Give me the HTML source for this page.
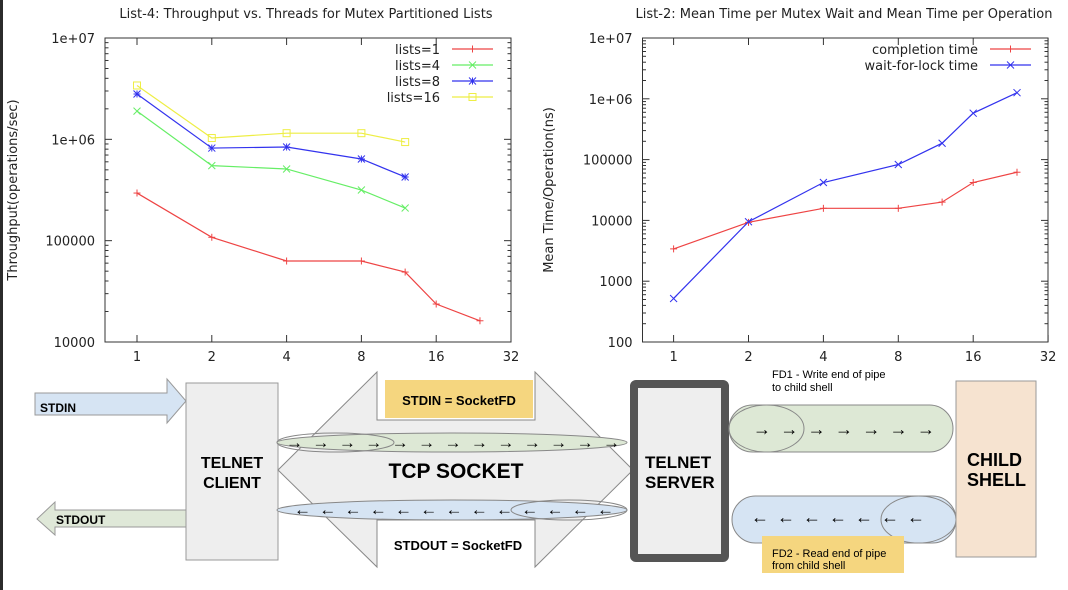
<!DOCTYPE html>
<html><head><meta charset="utf-8"><style>
html,body{margin:0;padding:0;background:#fff;}
svg{display:block;font-family:"Liberation Sans",sans-serif;}
.ch{font-family:"DejaVu Sans",sans-serif;}
</style></head><body>
<svg id="svg" width="1068" height="590" viewBox="0 0 1068 590" xmlns="http://www.w3.org/2000/svg">
<rect x="0" y="0" width="1068" height="590" fill="#fff"/>
<rect x="0" y="0" width="3" height="590" fill="#2b2b2b"/>
<g id="charts" class="ch"></g>

<!-- Diagram -->
<g font-weight="bold">
  <polygon points="35,393 167,393 167,379 186,401 167,423 167,415 35,415" fill="#d6e4f3" stroke="#999" stroke-width="1"/>
  <text x="40" y="412" font-size="12">STDIN</text>
  <polygon points="186,510 55,510 55,502 37,519 55,535 55,527 186,527" fill="#dfe8d8" stroke="#999" stroke-width="1"/>
  <text x="56" y="524" font-size="12">STDOUT</text>
  <rect x="186" y="383" width="92" height="177" fill="#eeeeee" stroke="#999"/>
  <text x="232" y="468" font-size="16" text-anchor="middle">TELNET</text>
  <text x="232" y="488" font-size="16" text-anchor="middle">CLIENT</text>

  <polygon points="278,470 377,372 377,420 535,420 535,372 633,470 535,567 535,520 377,520 377,567" fill="#eeeeee" stroke="#888" stroke-width="1"/>
  <rect x="385" y="380" width="148" height="38" fill="#f5d67f"/>
  <text x="459" y="405" font-size="13" text-anchor="middle">STDIN = SocketFD</text>
  <ellipse cx="452" cy="442.5" rx="175" ry="9.5" fill="#dde8d5" stroke="#888"/>
  <ellipse cx="335.5" cy="442.5" rx="58.5" ry="9.5" fill="none" stroke="#888"/>
  <text x="286" y="448" font-size="17" font-weight="normal" textLength="334" lengthAdjust="spacing">→ → → → → → → → → → → → →</text>
  <text x="456" y="478" font-size="21" text-anchor="middle">TCP SOCKET</text>
  <ellipse cx="452" cy="510" rx="175" ry="10" fill="#d6e4f3" stroke="#888"/>
  <ellipse cx="569" cy="510" rx="58" ry="10" fill="none" stroke="#888"/>
  <text x="294" y="515" font-size="17" font-weight="normal" textLength="320" lengthAdjust="spacing">← ← ← ← ← ← ← ← ← ← ← ← ←</text>
  <text x="458" y="550" font-size="13" text-anchor="middle">STDOUT = SocketFD</text>

  <rect x="634" y="384" width="91" height="174" rx="2" fill="#eeeeee" stroke="#555" stroke-width="8"/>
  <text x="645" y="468" font-size="17">TELNET</text>
  <text x="645" y="488" font-size="17">SERVER</text>

  <text x="772" y="378" font-size="11" font-weight="normal">FD1 - Write end of pipe</text>
  <text x="772" y="391" font-size="11" font-weight="normal">to child shell</text>
  <rect x="729" y="405" width="224" height="47" rx="23.5" fill="#dde8d5" stroke="#888"/>
  <ellipse cx="766.5" cy="428.5" rx="37.5" ry="23.5" fill="none" stroke="#888"/>
  <text x="753" y="435" font-size="18" font-weight="normal" textLength="182" lengthAdjust="spacing">→ → → → → → →</text>
  <rect x="732" y="496" width="224" height="47" rx="23.5" fill="#d6e4f3" stroke="#888"/>
  <ellipse cx="918.5" cy="519.5" rx="37.5" ry="23.5" fill="none" stroke="#888"/>
  <text x="751" y="523" font-size="18" font-weight="normal" textLength="174" lengthAdjust="spacing">← ← ← ← ← ← ←</text>
  <rect x="762" y="536" width="142" height="37" fill="#f5d67f"/>
  <text x="772" y="557" font-size="11" font-weight="normal">FD2 - Read end of pipe</text>
  <text x="772" y="569" font-size="11" font-weight="normal">from child shell</text>

  <rect x="956" y="381" width="80" height="176" fill="#f6e3d0" stroke="#999"/>
  <text x="967" y="466" font-size="18">CHILD</text>
  <text x="967" y="486" font-size="18">SHELL</text>
</g>
</svg>
<script>
// ---- Chart 1 data ----
const threads1 = [1, 2, 4, 8, 12, 16, 24];
const lists1 = [295000, 108000, 63000, 63000, 49000, 23700, 16200];
const lists4 = [1900000, 550000, 510000, 316000, 210000];
const lists8 = [2800000, 820000, 840000, 640000, 425000];
const lists16 = [3400000, 1030000, 1150000, 1150000, 940000];
const legend1 = ["lists=1", "lists=4", "lists=8", "lists=16"];
const yTicks1 = [10000, 100000, 1000000, 10000000];
const yTickLabels1 = ["10000", "100000", "1e+06", "1e+07"];
// ---- Chart 2 data ----
const threads2 = [1, 2, 4, 8, 12, 16, 24];
const completion = [3400, 9300, 15800, 15800, 20000, 42000, 62000];
const waitLock = [520, 9500, 42000, 83000, 186000, 580000, 1260000];
const legend2 = ["completion time", "wait-for-lock time"];
const yTicks2 = [100, 1000, 10000, 100000, 1000000, 10000000];
const yTickLabels2 = ["100", "1000", "10000", "100000", "1e+06", "1e+07"];
const xTicks = [1, 2, 4, 8, 16, 32];

const NS = "http://www.w3.org/2000/svg";
const root = document.getElementById("charts");
function mk(tag, attrs, parent) {
  const e = document.createElementNS(NS, tag);
  for (const k in attrs) e.setAttribute(k, attrs[k]);
  (parent || root).appendChild(e);
  return e;
}
function marker(g, type, x, y, color) {
  const s = 3.5;
  if (type === "plus" || type === "star") {
    mk("line", {x1: x - s, y1: y, x2: x + s, y2: y, stroke: color}, g);
    mk("line", {x1: x, y1: y - s, x2: x, y2: y + s, stroke: color}, g);
  }
  if (type === "cross" || type === "star") {
    mk("line", {x1: x - s, y1: y - s, x2: x + s, y2: y + s, stroke: color}, g);
    mk("line", {x1: x - s, y1: y + s, x2: x + s, y2: y - s, stroke: color}, g);
  }
  if (type === "square") {
    mk("rect", {x: x - s, y: y - s, width: 2 * s, height: 2 * s, fill: "none", stroke: color}, g);
  }
}
function chart(cfg) {
  const {L, R, T, B, ymin, ymax, x1px, octave} = cfg;
  const xs = v => x1px + Math.log2(v) * octave;
  const ys = v => B - (Math.log10(v) - Math.log10(ymin)) / (Math.log10(ymax) - Math.log10(ymin)) * (B - T);
  const g = mk("g", {});
  
  
  const t = mk("text", {x: cfg.titleX, y: 18, "font-size": 13, "text-anchor": "middle", fill: "#222"}, g);
  t.textContent = cfg.title;
  
  
  const frame = mk("rect", {x: L, y: T, width: R - L, height: B - T, fill: "none", stroke: "#333"}, g);
  
  
  cfg.yTicks.forEach((v, i) => {
    const y = ys(v);
    mk("line", {x1: L, y1: y, x2: L + 7, y2: y, stroke: "#333"}, g);
    mk("line", {x1: R, y1: y, x2: R - 7, y2: y, stroke: "#333"}, g);
    const lb = mk("text", {x: L - 10, y: y + 5, "font-size": 13, "text-anchor": "end", fill: "#222"}, g);
    lb.textContent = cfg.yLabels[i];
    
    
    if (i < cfg.yTicks.length - 1) {
      for (let m = 2; m <= 9; m++) {
        const ym = ys(v * m);
        mk("line", {x1: L, y1: ym, x2: L + 3.5, y2: ym, stroke: "#333"}, g);
        mk("line", {x1: R, y1: ym, x2: R - 3.5, y2: ym, stroke: "#333"}, g);
      }
    }
  });
  xTicks.forEach(v => {
    const x = xs(v);
    mk("line", {x1: x, y1: B, x2: x, y2: B - 7, stroke: "#333"}, g);
    mk("line", {x1: x, y1: T, x2: x, y2: T + 7, stroke: "#333"}, g);
    const lb = mk("text", {x: x, y: B + 19, "font-size": 13, "text-anchor": "middle", fill: "#222"}, g);
    lb.textContent = String(v);
    
    
  });
  const yl = mk("text", {x: 0, y: 0, "font-size": 13, "text-anchor": "middle", fill: "#222",
    transform: `translate(${cfg.ylabelX},190) rotate(-90)`}, g);
  yl.textContent = cfg.ylabel;
  
  
  cfg.series.forEach((s, si) => {
    const sg = mk("g", {}, g);
    
    
    const pts = s.values.map((v, i) => [xs(cfg.xvals[i]), ys(v)]);
    mk("polyline", {points: pts.map(p => p.join(",")).join(" "), fill: "none", stroke: s.color, "stroke-width": 1.2}, sg);
    pts.forEach(p => marker(sg, s.marker, p[0], p[1], s.color));
    const ly = cfg.legY + si * 16;
    const lt = mk("text", {x: cfg.legTextX, y: ly + 5, "font-size": 13, "text-anchor": "end", fill: "#222"}, g);
    lt.textContent = s.label;
    
    
    mk("line", {x1: cfg.legLineX, y1: ly, x2: cfg.legLineX + 41, y2: ly, stroke: s.color, "stroke-width": 1.2}, g);
    marker(g, s.marker, cfg.legLineX + 20.5, ly, s.color);
  });
}
chart({
  name: "throughput-chart", title: "List-4: Throughput vs. Threads for Mutex Partitioned Lists", titleX: 306,
  L: 105, R: 511, T: 38, B: 342, ymin: 10000, ymax: 10000000, x1px: 137, octave: 74.8,
  yTicks: yTicks1, yLabels: yTickLabels1, ylabel: "Throughput(operations/sec)", ylabelX: 17,
  xvals: threads1, legY: 49, legTextX: 440, legLineX: 452,
  series: [
    {label: legend1[0], values: lists1, color: "#ee4444", marker: "plus"},
    {label: legend1[1], values: lists4, color: "#66ee66", marker: "cross"},
    {label: legend1[2], values: lists8, color: "#3333ee", marker: "star"},
    {label: legend1[3], values: lists16, color: "#eeee44", marker: "square"}
  ]
});
chart({
  name: "mean-time-chart", title: "List-2: Mean Time per Mutex Wait and Mean Time per Operation", titleX: 844,
  L: 642.5, R: 1048, T: 38, B: 342, ymin: 100, ymax: 10000000, x1px: 673.6, octave: 74.9,
  yTicks: yTicks2, yLabels: yTickLabels2, ylabel: "Mean Time/Operation(ns)", ylabelX: 553,
  xvals: threads2, legY: 49, legTextX: 978, legLineX: 990,
  series: [
    {label: legend2[0], values: completion, color: "#ee4444", marker: "plus"},
    {label: legend2[1], values: waitLock, color: "#3333ee", marker: "cross"}
  ]
});
</script>
</body></html>
